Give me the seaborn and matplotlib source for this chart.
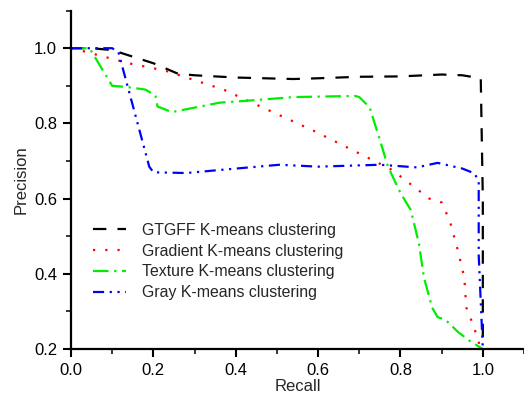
import matplotlib
matplotlib.use("Agg")
import matplotlib.pyplot as plt
import seaborn as sns
import pandas as pd
from matplotlib.ticker import MultipleLocator

# Precision-recall curves for four K-means clustering variants
gtgff_recall = [0.0, 0.05, 0.10, 0.20, 0.26, 0.30, 0.40, 0.54, 0.60, 0.70, 0.80, 0.90, 0.95, 0.995, 1.0, 1.0]
gtgff_precision = [1.0, 1.0, 0.995, 0.96, 0.932, 0.928, 0.922, 0.918, 0.92, 0.924, 0.925, 0.93, 0.928, 0.92, 0.6, 0.2]

gradient_recall = [0.0, 0.02, 0.14, 0.23, 0.37, 0.47, 0.59, 0.70, 0.755, 0.78, 0.87, 0.90, 0.92, 0.94, 0.955, 0.96, 0.978, 0.995]
gradient_precision = [1.0, 0.995, 0.96, 0.94, 0.89, 0.84, 0.78, 0.72, 0.69, 0.676, 0.60, 0.59, 0.54, 0.46, 0.39, 0.31, 0.26, 0.2]

texture_recall = [0.0, 0.045, 0.10, 0.135, 0.18, 0.205, 0.21, 0.245, 0.36, 0.425, 0.54, 0.69, 0.70, 0.725, 0.75, 0.77,
                  0.80, 0.825, 0.845, 0.857, 0.877, 0.89, 0.91, 0.94, 0.97, 1.0]
texture_precision = [1.0, 1.0, 0.90, 0.897, 0.89, 0.875, 0.845, 0.83, 0.855, 0.86, 0.87, 0.873, 0.87, 0.843, 0.756, 0.684,
                     0.615, 0.57, 0.48, 0.39, 0.31, 0.285, 0.277, 0.245, 0.22, 0.2]

gray_recall = [0.0, 0.10, 0.115, 0.19, 0.20, 0.28, 0.36, 0.506, 0.60, 0.75, 0.84, 0.89, 0.95, 0.98, 0.99, 0.99, 1.0]
gray_precision = [1.0, 1.0, 0.99, 0.685, 0.67, 0.668, 0.676, 0.69, 0.685, 0.69, 0.683, 0.695, 0.68, 0.667, 0.645, 0.45, 0.2]

series_names = ["GTGFF K-means clustering", "Gradient K-means clustering",
                "Texture K-means clustering", "Gray K-means clustering"]

x_ticks = [0.0, 0.2, 0.4, 0.6, 0.8, 1.0]
y_ticks = [0.2, 0.4, 0.6, 0.8, 1.0]

sns.set_style("ticks")
plt.rcParams["font.family"] = ["Liberation Sans", "DejaVu Sans"]

fig = plt.figure(figsize=(5.24, 4.0), dpi=100)
ax = fig.add_axes([0.1355, 0.1275, 0.8645, 0.846])

styles = [
    ("black", (0, (6, 5))),
    ("#ff0000", (0, (1, 4.5))),
    ("#00ee00", (0, (7, 2.5, 1, 2.5))),
    ("#0000ff", (0, (5, 2.5, 1, 2.5, 1, 2.5))),
]
data = [
    (gtgff_recall, gtgff_precision),
    (gradient_recall, gradient_precision),
    (texture_recall, texture_precision),
    (gray_recall, gray_precision),
]

for (rec, prec), name, (color, dash) in zip(data, series_names, styles):
    df = pd.DataFrame({"Recall": rec, "Precision": prec})
    sns.lineplot(data=df, x="Recall", y="Precision", sort=False, estimator=None,
                 color=color, linewidth=1.6, linestyle=dash, label=name, ax=ax)

ax.set_xlim(0, 1.1)
ax.set_ylim(0.2, 1.1)
ax.set_xticks(x_ticks)
ax.set_xticklabels([f"{v:.1f}" for v in x_ticks])
ax.set_yticks(y_ticks)
ax.set_yticklabels([f"{v:.1f}" for v in y_ticks])
ax.xaxis.set_minor_locator(MultipleLocator(0.1))
ax.yaxis.set_minor_locator(MultipleLocator(0.1))

ax.tick_params(which="major", direction="out", length=6, width=1.5, pad=4,
               labelsize=12, colors="black")
ax.tick_params(which="minor", direction="out", length=3.5, width=1.3)
for side in ("top", "right"):
    ax.spines[side].set_visible(False)
for side in ("left", "bottom"):
    ax.spines[side].set_linewidth(1.6)
    ax.spines[side].set_color("black")

ax.set_xlabel("Recall", fontsize=12, labelpad=1)
ax.set_ylabel("Precision", fontsize=12, labelpad=4)

ax.legend(loc="center left", bbox_to_anchor=(0.034, 0.2586), borderaxespad=0,
          frameon=False, fontsize=11.4, handlelength=2.1, handletextpad=1.0,
          labelspacing=0.37)

fig.savefig("out.png", dpi=100)
